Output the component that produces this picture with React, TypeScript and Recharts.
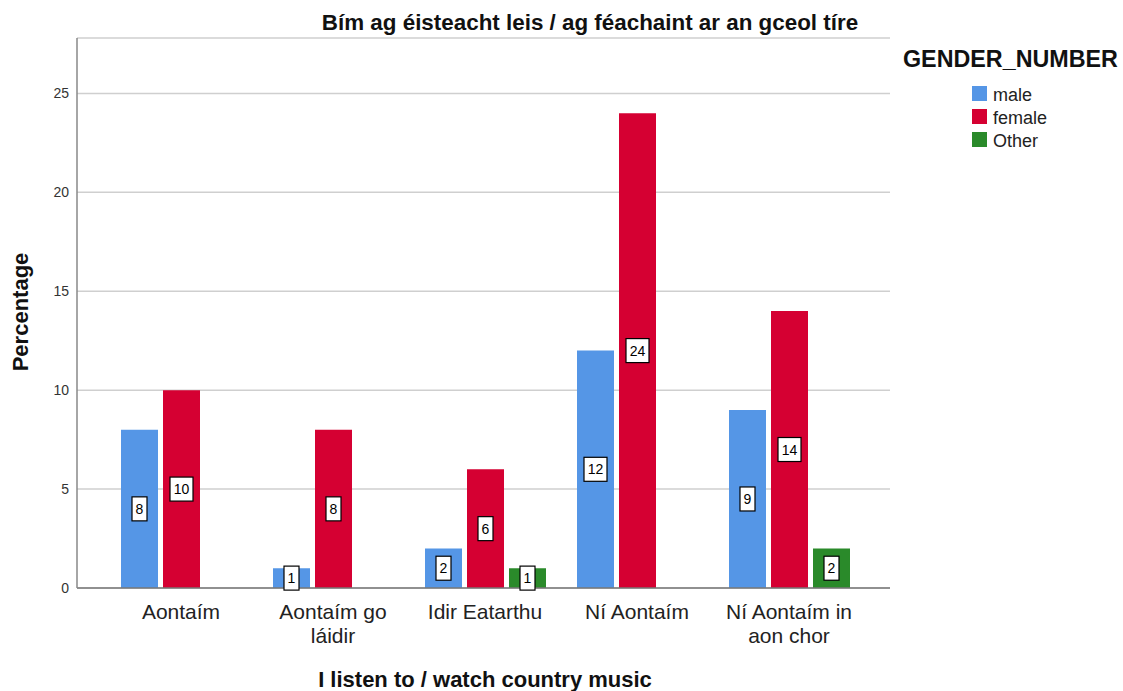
import React from "react";
import { BarChart, Bar, XAxis, YAxis, CartesianGrid, LabelList, Text } from "recharts";

const categories = ["Aontaím", "Aontaím go láidir", "Idir Eatarthu", "Ní Aontaím", "Ní Aontaím in aon chor"];
const maleValues: (number | null)[] = [8, 1, 2, 12, 9];
const femaleValues: (number | null)[] = [10, 8, 6, 24, 14];
const otherValues: (number | null)[] = [null, null, 1, null, 2];
const yTicks = [0, 5, 10, 15, 20, 25];

const seriesInfo = [
  { key: "male", name: "male", color: "#5596E6" },
  { key: "female", name: "female", color: "#D50032" },
  { key: "other", name: "Other", color: "#2A8A2A" },
];

const data = categories.map((c, i) => ({
  category: c,
  male: maleValues[i],
  female: femaleValues[i],
  other: otherValues[i],
}));

const FONT = "Arial, 'Liberation Sans', sans-serif";

const BoxLabel = (props: any) => {
  const { x, y, width, height, value } = props;
  if (value === null || value === undefined) return null;
  const txt = String(value);
  const bw = txt.length * 8 + 7;
  const bh = 24;
  const cx = Number(x) + Number(width) / 2;
  const cy = Number(y) + Number(height) / 2;
  return (
    <g>
      <rect x={cx - bw / 2} y={cy - bh / 2} width={bw} height={bh} fill="#fff" stroke="#000" strokeWidth={1.2} />
      <text x={cx} y={cy + 5} textAnchor="middle" fontSize={14} fontFamily={FONT} fill="#000">{txt}</text>
    </g>
  );
};

const CatTick = (props: any) => {
  const { x, y, payload } = props;
  return (
    <Text
      x={x}
      y={y + 8}
      width={120}
      textAnchor="middle"
      verticalAnchor="start"
      style={{ fontSize: 21, fontFamily: FONT }}
      fontSize={21}
      fontFamily={FONT}
      fill="#222"
      lineHeight={24}
    >
      {payload.value}
    </Text>
  );
};

export default function App() {
  return (
    <div style={{ position: "absolute", left: 0, top: 0, width: 1123, height: 691, background: "#fff" }}>
      <BarChart
        width={1123}
        height={691}
        data={data}
        margin={{ top: 38, right: 233, bottom: 0, left: 37 }}
        barSize={37}
        barGap={5}
      >
        <CartesianGrid vertical={false} stroke="#cfcfcf" strokeWidth={1.5} />
        <XAxis
          dataKey="category"
          padding={{ left: 28, right: 25 }}
          axisLine={{ stroke: "#777", strokeWidth: 1.5 }}
          tickLine={false}
          tick={<CatTick />}
          interval={0}
          height={103}
        />
        <YAxis
          domain={[0, 27.8]}
          ticks={yTicks}
          width={40}
          axisLine={{ stroke: "#888", strokeWidth: 1.5 }}
          tickLine={false}
          tick={{ fontSize: 14, fill: "#333", fontFamily: FONT }}
        />
        {seriesInfo.map((s) => (
          <Bar key={s.key} dataKey={s.key} name={s.name} fill={s.color} isAnimationActive={false}>
            <LabelList dataKey={s.key} content={<BoxLabel />} />
          </Bar>
        ))}
        <text x={590} y={30} textAnchor="middle" fontSize={22.4} fontWeight="bold" fontFamily={FONT} fill="#111">
          Bím ag éisteacht leis / ag féachaint ar an gceol tíre
        </text>
        <text x={485} y={687} textAnchor="middle" fontSize={22} fontWeight="bold" fontFamily={FONT} fill="#111">
          I listen to / watch country music
        </text>
        <text x={28} y={312} textAnchor="middle" fontSize={22} fontWeight="bold" fontFamily={FONT} fill="#111" transform="rotate(-90 28 312)">
          Percentage
        </text>
        <g>
          <text x={903} y={67} fontSize={23.3} fontWeight="bold" fontFamily={FONT} fill="#111">GENDER_NUMBER</text>
          {seriesInfo.map((s, i) => (
            <g key={s.key}>
              <rect x={972} y={86 + i * 23} width={15} height={15} fill={s.color} />
              <text x={993} y={101 + i * 23} fontSize={18} fontFamily={FONT} fill="#222">{s.name}</text>
            </g>
          ))}
        </g>
      </BarChart>
    </div>
  );
}
